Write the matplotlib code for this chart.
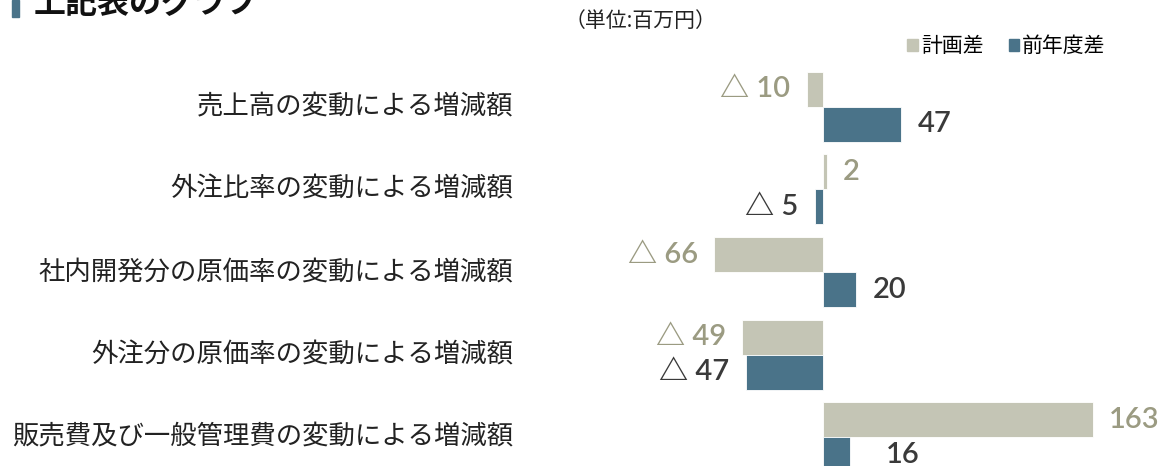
import matplotlib
matplotlib.use("Agg")
import matplotlib.pyplot as plt
from matplotlib.patches import Patch

plt.rcParams['font.family'] = ['Noto Sans CJK JP', 'DejaVu Sans']

# データ（単位:百万円）
categories = ['売上高の変動による増減額',
              '外注比率の変動による増減額',
              '社内開発分の原価率の変動による増減額',
              '外注分の原価率の変動による増減額',
              '販売費及び一般管理費の変動による増減額']
plan_diff = [-10, 2, -66, -49, 163]     # 計画差
prev_diff = [47, -5, 20, -47, 16]       # 前年度差
series_names = ['計画差', '前年度差']

GRAY = '#c4c5b5'
BLUE = '#4a7389'
GRAY_TXT = '#9b9b82'
DARK_TXT = '#3a3a3a'

W, H = 1166, 466
fig = plt.figure(figsize=(W / 100, H / 100), dpi=100)
ax = fig.add_axes([600 / W, 0, 566 / W, 1])
ax.set_xlim(-135.1, 207.3)
ax.set_ylim(4.346, -1.291)
ax.axis('off')

bh = 0.4234
off = 0.2117
y = list(range(len(categories)))


def fmt(v):
    return '△ %d' % abs(v) if v < 0 else '%d' % v


ax.barh([i - off for i in y], plan_diff, height=bh, color=GRAY, edgecolor='white', linewidth=0.6)
ax.barh([i + off for i in y], prev_diff, height=bh, color=BLUE, edgecolor='white', linewidth=0.6)

num_font = ['Lato', 'Noto Sans CJK JP']
pad = 10  # 値ラベルとバーの間隔（データ単位）
for i in y:
    for vals, dy, col in ((plan_diff, -off, GRAY_TXT), (prev_diff, off, DARK_TXT)):
        v = vals[i]
        extra = 0
        if vals is prev_diff and i == len(y) - 1:
            extra = 12  # 最後のラベルは少し右
        if v >= 0:
            ax.text(v + pad + extra, i + dy, fmt(v), ha='left', va='center',
                    fontsize=21, fontweight='semibold', color=col,
                    family=num_font, clip_on=False)
        else:
            ax.text(v - pad, i + dy, fmt(v), ha='right', va='center',
                    fontsize=21, fontweight='semibold', color=col,
                    family=num_font, clip_on=False)

# 項目ラベル
for i, c in enumerate(categories):
    ax.text((513 - 600) / 566, i, c, transform=ax.get_yaxis_transform(),
            ha='right', va='center', fontsize=19, color='#222222', clip_on=False)

# タイトル（上端が切れている）
fig.patches.append(plt.Rectangle((12 / W, 1 - 17 / H), 7 / W, 17 / H,
                                 transform=fig.transFigure, color=BLUE))
fig.text(34 / W, 1 - 4 / H, '上記表のグラフ', ha='left', va='center',
         fontsize=23, fontweight='bold', color='#111111')

fig.text(565 / W, 1 - 21 / H, '（単位:百万円）', ha='left', va='center',
         fontsize=15, color='#222222')

handles = [Patch(color=GRAY), Patch(color=BLUE)]
fig.legend(handles, series_names, loc='center right',
           bbox_to_anchor=(1116 / W, 1 - 46 / H), ncol=2, frameon=False,
           fontsize=15, handlelength=0.5, handleheight=0.5,
           handletextpad=0.15, columnspacing=1.2, borderpad=0)

fig.savefig('out.png', dpi=100)
